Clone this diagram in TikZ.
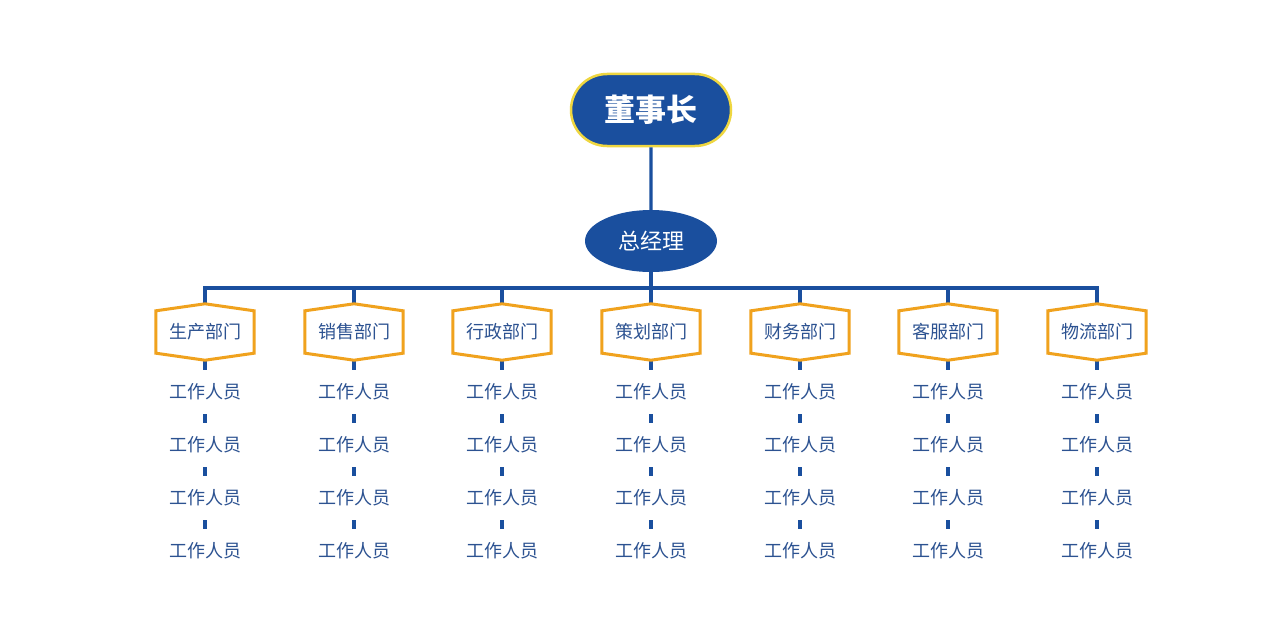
\documentclass[tikz,border=0pt]{standalone}
\usepackage{fontspec}
\newfontfamily\cjk{Noto Sans CJK SC}
\usetikzlibrary{calc,shapes.geometric,shapes.misc}
\definecolor{boardblue}{RGB}{26,79,158}
\definecolor{boardrim}{RGB}{238,214,64}
\definecolor{deptorange}{RGB}{240,162,30}
\definecolor{staffblue}{RGB}{44,82,145}
\def\deptframe(#1){\draw[line width=3pt, color=deptorange, line join=miter] (#1.north) -- ($(#1.north east)+(0,7)$) -- ($(#1.south east)+(0,-7)$) -- (#1.south) -- ($(#1.south west)+(0,-7)$) -- ($(#1.north west)+(0,7)$) -- cycle;}
\tikzset{
	link/.style={line width=3.2pt, color=boardblue},
	chairbox/.style={rounded rectangle, fill=boardblue, draw=boardrim, line width=2.5pt, minimum width=160pt, minimum height=72pt, inner sep=0pt, text=white, font=\cjk\bfseries\fontsize{31}{33}\selectfont},
	gmbox/.style={ellipse, fill=boardblue, minimum width=132pt, minimum height=62pt, inner sep=0pt, text=white, font=\cjk\fontsize{22}{24}\selectfont},
	deptbox/.style={rectangle, minimum width=98pt, minimum height=56pt, inner sep=0pt, text=staffblue, font=\cjk\fontsize{18}{20}\selectfont},
	staffbox/.style={rectangle, minimum width=80pt, minimum height=44pt, inner sep=0pt, text=staffblue, font=\cjk\fontsize{18}{20}\selectfont}
}
\begin{document}
\begin{tikzpicture}[x=1pt, y=-1pt]
			%%%%% START %%%%%
			\useasboundingbox[fill=white] (0,0) rectangle (1269,618);
			
			\node[chairbox] (chair) at (651, 110) {董事长};
			\node[gmbox] (gm) at (651, 241) {总经理};
			\coordinate (bus) at (651, 288);
			
			\node[deptbox] (prod) at (205, 332) {生产部门};
			\node[deptbox] (sale) at (354, 332) {销售部门};
			\node[deptbox] (admin) at (502, 332) {行政部门};
			\node[deptbox] (plan) at (651, 332) {策划部门};
			\node[deptbox] (fin) at (800, 332) {财务部门};
			\node[deptbox] (serv) at (948, 332) {客服部门};
			\node[deptbox] (logi) at (1097, 332) {物流部门};
			
			\node[staffbox] (prod1) at (205, 392) {工作人员};
			\node[staffbox] (prod2) at (205, 445) {工作人员};
			\node[staffbox] (prod3) at (205, 498) {工作人员};
			\node[staffbox] (prod4) at (205, 551) {工作人员};
			
			\node[staffbox] (sale1) at (354, 392) {工作人员};
			\node[staffbox] (sale2) at (354, 445) {工作人员};
			\node[staffbox] (sale3) at (354, 498) {工作人员};
			\node[staffbox] (sale4) at (354, 551) {工作人员};
			
			\node[staffbox] (admin1) at (502, 392) {工作人员};
			\node[staffbox] (admin2) at (502, 445) {工作人员};
			\node[staffbox] (admin3) at (502, 498) {工作人员};
			\node[staffbox] (admin4) at (502, 551) {工作人员};
			
			\node[staffbox] (plan1) at (651, 392) {工作人员};
			\node[staffbox] (plan2) at (651, 445) {工作人员};
			\node[staffbox] (plan3) at (651, 498) {工作人员};
			\node[staffbox] (plan4) at (651, 551) {工作人员};
			
			\node[staffbox] (fin1) at (800, 392) {工作人员};
			\node[staffbox] (fin2) at (800, 445) {工作人员};
			\node[staffbox] (fin3) at (800, 498) {工作人员};
			\node[staffbox] (fin4) at (800, 551) {工作人员};
			
			\node[staffbox] (serv1) at (948, 392) {工作人员};
			\node[staffbox] (serv2) at (948, 445) {工作人员};
			\node[staffbox] (serv3) at (948, 498) {工作人员};
			\node[staffbox] (serv4) at (948, 551) {工作人员};
			
			\node[staffbox] (logi1) at (1097, 392) {工作人员};
			\node[staffbox] (logi2) at (1097, 445) {工作人员};
			\node[staffbox] (logi3) at (1097, 498) {工作人员};
			\node[staffbox] (logi4) at (1097, 551) {工作人员};
			
			\draw[link] (chair) -- (gm);
			\draw[link] (gm) -- (gm |- bus);
			\draw[link] (prod.north) -- (prod |- bus) -- (logi |- bus) -- (logi.north);
			\draw[link] (sale.north) -- (sale |- bus);
			\draw[link] (admin.north) -- (admin |- bus);
			\draw[link] (plan.north) -- (plan |- bus);
			\draw[link] (fin.north) -- (fin |- bus);
			\draw[link] (serv.north) -- (serv |- bus);
			
			\draw[link] (prod) -- (prod1) (prod1) -- (prod2) (prod2) -- (prod3) (prod3) -- (prod4);
			\draw[link] (sale) -- (sale1) (sale1) -- (sale2) (sale2) -- (sale3) (sale3) -- (sale4);
			\draw[link] (admin) -- (admin1) (admin1) -- (admin2) (admin2) -- (admin3) (admin3) -- (admin4);
			\draw[link] (plan) -- (plan1) (plan1) -- (plan2) (plan2) -- (plan3) (plan3) -- (plan4);
			\draw[link] (fin) -- (fin1) (fin1) -- (fin2) (fin2) -- (fin3) (fin3) -- (fin4);
			\draw[link] (serv) -- (serv1) (serv1) -- (serv2) (serv2) -- (serv3) (serv3) -- (serv4);
			\draw[link] (logi) -- (logi1) (logi1) -- (logi2) (logi2) -- (logi3) (logi3) -- (logi4);
			
			\deptframe(prod)
			\deptframe(sale)
			\deptframe(admin)
			\deptframe(plan)
			\deptframe(fin)
			\deptframe(serv)
			\deptframe(logi)
			
			%%%%% END %%%%%
\end{tikzpicture}
\end{document}
